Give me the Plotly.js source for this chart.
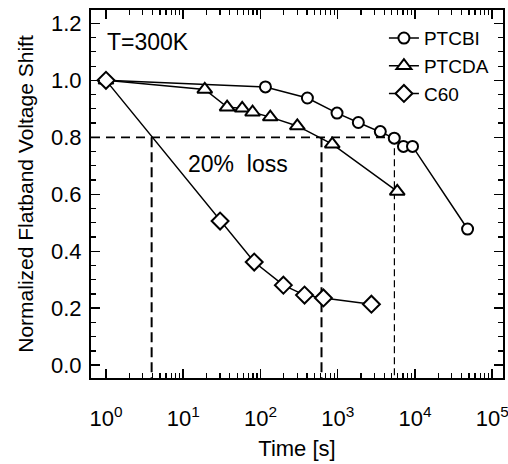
<!DOCTYPE html>
<html>
<head>
<meta charset="utf-8">
<script src="https://cdn.plot.ly/plotly-3.0.1.min.js"></script>
<style>html,body{margin:0;padding:0;background:#fff;}#chart{width:508px;height:464px;}</style>
</head>
<body>
<div id="chart"></div>
<script>
// ---- data ----
var ptcbiTime = [1, 116, 405, 980, 1850, 3560, 5400, 7100, 9300, 48000];
var ptcbiShift = [1.0, 0.977, 0.938, 0.885, 0.852, 0.82, 0.797, 0.768, 0.768, 0.478];

var ptcdaTime = [1, 19, 37, 58, 79, 134, 300, 850, 5900];
var ptcdaShift = [1.0, 0.968, 0.906, 0.902, 0.888, 0.871, 0.84, 0.776, 0.61];

var c60Time = [1, 30, 83, 198, 372, 653, 2730];
var c60Shift = [1.0, 0.506, 0.362, 0.281, 0.246, 0.236, 0.214];

var seriesNames = ["PTCBI", "PTCDA", "C60"];

// 20% loss guide: level and the times at which each film reaches it
var lossLevel = 0.8;
var lossTimes = [3.9, 617, 5420];
var lossLabel = "20%  loss";
var tempLabel = "T=300K";

// axis ticks
var xTickVals = [1, 10, 100, 1000, 10000, 100000];
var xTickText = ["10<sup>0</sup>", "10<sup>1</sup>", "10<sup>2</sup>", "10<sup>3</sup>", "10<sup>4</sup>", "10<sup>5</sup>"];
var yTickVals = [0.0, 0.2, 0.4, 0.6, 0.8, 1.0, 1.2];
var yTickText = ["0.0", "0.2", "0.4", "0.6", "0.8", "1.0", "1.2"];

// ---- build ----
var xMinLog = -0.194, xMaxLog = 5.14;
var yMin = -0.045, yMax = 1.247;
var xLeft = Math.pow(10, xMinLog);

var xMinor = [];
for (var k = 0; k < 5; k++) for (var m = 2; m <= 9; m++) xMinor.push(m * Math.pow(10, k));

var FONT = "Liberation Sans, Arial, sans-serif";
var markerLine = {color: "#000", width: 2};

var traces = [];
// dashed guides of the 20% loss level
traces.push({x: [xLeft, lossTimes[2]], y: [lossLevel, lossLevel], mode: "lines",
  line: {color: "#000", width: 1.8, dash: "9px,6px"}, showlegend: false, hoverinfo: "skip"});
traces.push({x: [lossTimes[0], lossTimes[0]], y: [lossLevel, yMin], mode: "lines",
  line: {color: "#000", width: 2, dash: "10px,5px"}, showlegend: false, hoverinfo: "skip"});
traces.push({x: [lossTimes[1], lossTimes[1]], y: [lossLevel, yMin], mode: "lines",
  line: {color: "#000", width: 2, dash: "10px,5px"}, showlegend: false, hoverinfo: "skip"});
traces.push({x: [lossTimes[2], lossTimes[2]], y: [lossLevel, yMin], mode: "lines",
  line: {color: "#000", width: 1.2, dash: "7px,4px"}, showlegend: false, hoverinfo: "skip"});

traces.push({x: ptcbiTime, y: ptcbiShift, name: seriesNames[0], mode: "lines+markers",
  line: {color: "#000", width: 1.5},
  marker: {symbol: "circle", size: 11, color: "#fff", line: markerLine}});
traces.push({x: ptcdaTime, y: ptcdaShift, name: seriesNames[1], mode: "lines+markers",
  line: {color: "#000", width: 1.5},
  marker: {symbol: "triangle-up", size: 13, color: "#fff", line: markerLine}});
traces.push({x: c60Time, y: c60Shift, name: seriesNames[2], mode: "lines+markers",
  line: {color: "#000", width: 1.5},
  marker: {symbol: "diamond", size: 13, color: "#fff", line: markerLine}});

var layout = {
  width: 508, height: 464,
  margin: {l: 91, r: 5, t: 10, b: 86},
  paper_bgcolor: "#fff", plot_bgcolor: "#fff",
  font: {family: FONT, color: "#000"},
  xaxis: {
    type: "log", range: [xMinLog, xMaxLog],
    showgrid: false, zeroline: false, showline: true, linecolor: "#000", linewidth: 2,
    mirror: "ticks", ticks: "inside", ticklen: 9, tickwidth: 1.5, tickcolor: "#000",
    minor: {tickmode: "array", tickvals: xMinor, ticks: "inside", ticklen: 5, tickwidth: 1.2, tickcolor: "#000", showgrid: false},
    tickfont: {family: FONT, size: 22, color: "#000"},
    tickmode: "array", tickvals: xTickVals, ticktext: xTickText,
    ticklabelstandoff: 20, ticklabeloverflow: "allow",
    title: {text: "Time [s]", font: {family: FONT, size: 22, color: "#000"}, standoff: 10}
  },
  yaxis: {
    range: [yMin, yMax],
    showgrid: false, zeroline: false, showline: true, linecolor: "#000", linewidth: 2,
    mirror: "ticks", ticks: "inside", ticklen: 9, tickwidth: 1.5, tickcolor: "#000",
    minor: {dtick: 0.05, tick0: 0, ticks: "inside", ticklen: 5, tickwidth: 1.2, tickcolor: "#000", showgrid: false},
    tickfont: {family: FONT, size: 22, color: "#000"},
    tickmode: "array", tickvals: yTickVals, ticktext: yTickText,
    ticklabelstandoff: 3, ticklabeloverflow: "allow",
    title: {text: "Normalized Flatband Voltage Shift", font: {family: FONT, size: 21, color: "#000"}, standoff: 12}
  },
  showlegend: true,
  legend: {x: 0.711, y: 0.975, xanchor: "left", yanchor: "top", bgcolor: "rgba(0,0,0,0)",
    font: {family: FONT, size: 19, color: "#000"}, tracegroupgap: 0, itemwidth: 30},
  annotations: [
    {xref: "x", yref: "y", x: -0.01, y: 1.133, text: tempLabel, showarrow: false,
      xanchor: "left", yanchor: "middle", font: {family: FONT, size: 23, color: "#000"}},
    {xref: "x", yref: "y", x: 1.707, y: 0.708, text: lossLabel, showarrow: false,
      xanchor: "center", yanchor: "middle", font: {family: FONT, size: 23, color: "#000"}}
  ]
};

Plotly.newPlot("chart", traces, layout, {displayModeBar: false, staticPlot: true});
</script>
</body>
</html>
